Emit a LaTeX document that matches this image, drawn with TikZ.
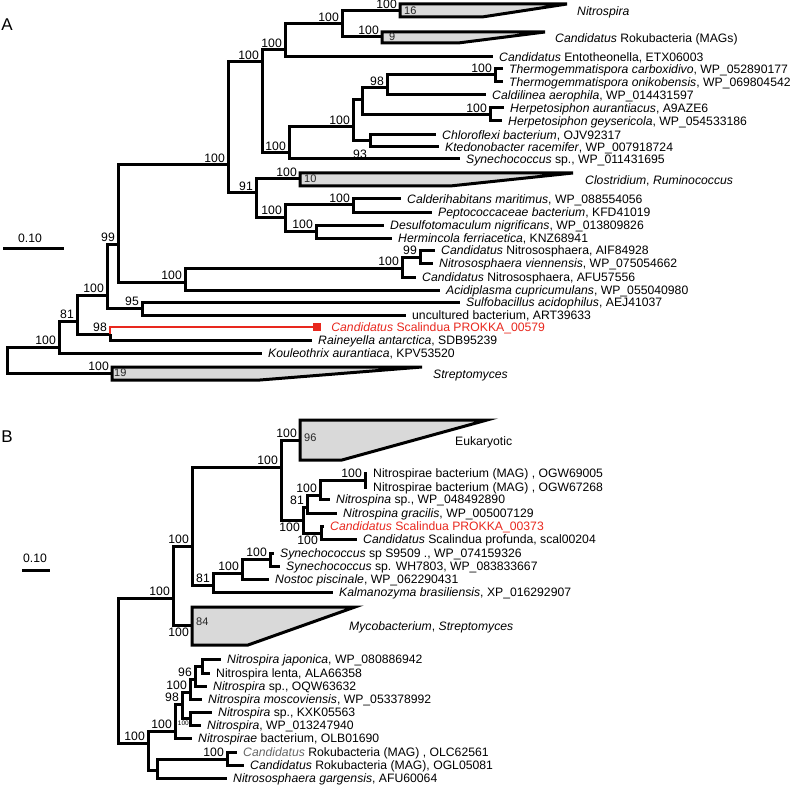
\documentclass[tikz,border=0pt]{standalone}
\usepackage{fontspec}
\setmainfont{Liberation Sans}
\definecolor{scred}{RGB}{232,40,30}
\definecolor{cladegray}{RGB}{217,217,217}
\begin{document}
\begin{tikzpicture}[x=1pt, y=-1pt,
  br/.style={line width=3pt, draw=black},
  redbr/.style={line width=2.2pt, draw=scred},
  clade/.style={line width=3pt, draw=black, fill=cladegray},
  tip/.style={anchor=west, inner sep=0pt, xshift=6pt, text height=8.6pt, text depth=0pt,
              font=\fontsize{12.2}{12}\selectfont},
  bs/.style={anchor=south east, inner xsep=3pt, inner ysep=2.5pt, text height=8.6pt, text depth=0pt,
             font=\fontsize{12.2}{12}\selectfont},
  bsb/.style={bs, anchor=north east},
  cnum/.style={anchor=west, inner sep=0pt, xshift=4pt, text height=7.9pt, text depth=0pt,
               font=\fontsize{11}{11}\selectfont, text=black!85},
  panel/.style={font=\fontsize{17}{17}\selectfont}
]
\useasboundingbox (0,0) rectangle (799,786);

\node[panel] (pA) at (7,25) {A};
\node[panel] (pB) at (7,437) {B};

% scale bars
\coordinate (sa1) at (3,248); \coordinate (sa2) at (64,248);
\draw[br] (sa1) -- (sa2);
\node[font=\fontsize{12.2}{12}\selectfont] (sal) at (30,238) {0.10};
\coordinate (sb1) at (22,570); \coordinate (sb2) at (50,570);
\draw[br] (sb1) -- (sb2);
\node[font=\fontsize{12.2}{12}\selectfont] (sbl) at (35,558) {0.10};

% ---------- A ----------
\coordinate (rA) at (7,360);
\coordinate (a1) at (59,347);
\coordinate (a2) at (77,321);
\coordinate (a3) at (107,295);
\coordinate (a4) at (118,244);
\coordinate (a5) at (228,165);
\coordinate (a6) at (262,62);
\coordinate (a7) at (285,50);
\coordinate (a8) at (342,24);
\coordinate (a9) at (289,153);
\coordinate (a10) at (353,127);
\coordinate (a11) at (362,100);
\coordinate (a12) at (387,88);
\coordinate (a13) at (495,75);
\coordinate (a14) at (490,115);
\coordinate (a15) at (370,141);
\coordinate (a16) at (256,193);
\coordinate (a17) at (285,217);
\coordinate (a18) at (353,205);
\coordinate (a19) at (316,231);
\coordinate (a20) at (185,282);
\coordinate (a21) at (402,268);
\coordinate (a22) at (420,257);
\coordinate (a23) at (142,308);
\coordinate (a24) at (110,334);

\coordinate (cA16) at (400,11);
\coordinate (cA9) at (382,37);
\coordinate (cA10) at (300,179);
\coordinate (cA19) at (112,373);

\draw[clade] (400,4) -- (567,4) -- (482,17) -- (400,17) -- cycle;
\draw[clade] (382,32) -- (545,32) -- (458,43) -- (382,43) -- cycle;
\draw[clade] (300,173) -- (573,173) -- (450,186) -- (300,186) -- cycle;
\draw[clade] (112,367) -- (422,367) -- (260,380) -- (112,380) -- cycle;
\node[cnum] (n16) at (cA16) {16};
\node[cnum] (n9) at ([xshift=3pt]cA9) {9};
\node[cnum] (n10) at (cA10) {10};
\node[cnum] (n19) at ([xshift=-2pt]cA19) {19};

\coordinate (tA1) at (493,57);
\coordinate (tA2) at (503,69);
\coordinate (tA3) at (503,82);
\coordinate (tA4) at (486,95);
\coordinate (tA5) at (504,108);
\coordinate (tA6) at (502,121);
\coordinate (tA7) at (436,135);
\coordinate (tA8) at (439,147);
\coordinate (tA9) at (460,159);
\coordinate (tA10) at (401,199);
\coordinate (tA11) at (432,212);
\coordinate (tA12) at (384,225);
\coordinate (tA13) at (392,238);
\coordinate (tA14) at (435,250);
\coordinate (tA15) at (433,263);
\coordinate (tA16) at (416,277);
\coordinate (tA17) at (440,290);
\coordinate (tA18) at (460,302);
\coordinate (tA19) at (406,315);
\coordinate (tA20) at (313,327);
\coordinate (tA21) at (312,340);
\coordinate (tA22) at (262,353);

\draw[br] (rA) |- (a1);  \draw[br] (rA) |- (cA19);
\draw[br] (a1) |- (a2);  \draw[br] (a1) |- (tA22);
\draw[br] (a2) |- (a3);  \draw[br] (a2) |- (a24);
\draw[br] (a3) |- (a4);  \draw[br] (a3) |- (a23);
\draw[br] (a4) |- (a5);  \draw[br] (a4) |- (a20);
\draw[br] (a5) |- (a6);  \draw[br] (a5) |- (a16);
\draw[br] (a6) |- (a7);  \draw[br] (a6) |- (a9);
\draw[br] (a7) |- (a8);  \draw[br] (a7) |- (tA1);
\draw[br] (a8) |- (cA16); \draw[br] (a8) |- (cA9);
\draw[br] (a9) |- (a10); \draw[br] (a9) |- (tA9);
\draw[br] (a10) |- (a11); \draw[br] (a10) |- (a15);
\draw[br] (a11) |- (a12); \draw[br] (a11) |- (a14);
\draw[br] (a12) |- (a13); \draw[br] (a12) |- (tA4);
\draw[br] (a13) |- (tA2); \draw[br] (a13) |- (tA3);
\draw[br] (a14) |- (tA5); \draw[br] (a14) |- (tA6);
\draw[br] (a15) |- (tA7); \draw[br] (a15) |- (tA8);
\draw[br] (a16) |- (cA10); \draw[br] (a16) |- (a17);
\draw[br] (a17) |- (a18); \draw[br] (a17) |- (a19);
\draw[br] (a18) |- (tA10); \draw[br] (a18) |- (tA11);
\draw[br] (a19) |- (tA12); \draw[br] (a19) |- (tA13);
\draw[br] (a20) |- (a21); \draw[br] (a20) |- (tA17);
\draw[br] (a21) |- (a22); \draw[br] (a21) |- (tA16);
\draw[br] (a22) |- (tA14); \draw[br] (a22) |- (tA15);
\draw[br] (a23) |- (tA18); \draw[br] (a23) |- (tA19);
\draw[br] (a24) |- (tA21);
\node[fill=scred, inner sep=0pt, minimum size=8pt] (sqA) at (317,327) {};
\draw[redbr] (a24) |- (sqA.west);

\node[tip] (lA1) at (tA1) {\textit{Candidatus} Entotheonella, ETX06003};
\node[tip] (lA2) at (tA2) {\textit{Thermogemmatispora carboxidivo}, WP\_052890177};
\node[tip] (lA3) at (tA3) {\textit{Thermogemmatispora onikobensis}, WP\_069804542};
\node[tip] (lA4) at (tA4) {\textit{Caldilinea aerophila}, WP\_014431597};
\node[tip] (lA5) at (tA5) {\textit{Herpetosiphon aurantiacus}, A9AZE6};
\node[tip] (lA6) at (tA6) {\textit{Herpetosiphon geysericola}, WP\_054533186};
\node[tip] (lA7) at (tA7) {\textit{Chloroflexi bacterium}, OJV92317};
\node[tip] (lA8) at (tA8) {\textit{Ktedonobacter racemifer}, WP\_007918724};
\node[tip] (lA9) at (tA9) {\textit{Synechococcus} sp., WP\_011431695};
\node[tip] (lA10) at (tA10) {\textit{Calderihabitans maritimus}, WP\_088554056};
\node[tip] (lA11) at (tA11) {\textit{Peptococcaceae bacterium}, KFD41019};
\node[tip] (lA12) at (tA12) {\textit{Desulfotomaculum nigrificans}, WP\_013809826};
\node[tip] (lA13) at (tA13) {\textit{Hermincola ferriacetica}, KNZ68941};
\node[tip] (lA14) at (tA14) {\textit{Candidatus} Nitrososphaera, AIF84928};
\node[tip] (lA15) at (tA15) {\textit{Nitrososphaera viennensis}, WP\_075054662};
\node[tip] (lA16) at (tA16) {\textit{Candidatus} Nitrososphaera, AFU57556};
\node[tip] (lA17) at (tA17) {\textit{Acidiplasma cupricumulans}, WP\_055040980};
\node[tip] (lA18) at (tA18) {\textit{Sulfobacillus acidophilus}, AEJ41037};
\node[tip] (lA19) at (tA19) {uncultured bacterium, ART39633};
\node[tip, text=scred, xshift=0pt] (lA20) at ([xshift=4pt]sqA.east) {\textit{Candidatus} Scalindua PROKKA\_00579};
\node[tip] (lA21) at (tA21) {\textit{Raineyella antarctica}, SDB95239};
\node[tip] (lA22) at (tA22) {\textit{Kouleothrix aurantiaca}, KPV53520};
\node[tip, xshift=0pt] (lC16) at (571,11) {\textit{Nitrospira}};
\node[tip, xshift=0pt] (lC9) at (549,38) {\textit{Candidatus} Rokubacteria (MAGs)};
\node[tip, xshift=0pt] (lC10) at (579,180) {\textit{Clostridium}, \textit{Ruminococcus}};
\node[tip, xshift=0pt] (lC19) at (427,374) {\textit{Streptomyces}};

\node[bs] (bA1) at (cA16) {100};
\node[bs] (bA2) at (cA9) {100};
\node[bs] (bA3) at (a8) {100};
\node[bs] (bA4) at (a7) {100};
\node[bs] (bA5) at (a6) {100};
\node[bs] (bA6) at (a5) {100};
\node[bs] (bA7) at (a9) {100};
\node[bs] (bA8) at (a10) {100};
\node[bs] (bA9) at (a12) {98};
\node[bs] (bA10) at (a13) {100};
\node[bs] (bA11) at (a14) {100};
\node[bsb] (bA12) at (a15 |- tA8) {93};
\node[bs] (bA13) at (a16) {91};
\node[bs] (bA14) at (cA10) {100};
\node[bs] (bA15) at (a17) {100};
\node[bs] (bA16) at (a18) {100};
\node[bs] (bA17) at (a19) {100};
\node[bs] (bA18) at (a4) {99};
\node[bs] (bA19) at (a20) {100};
\node[bs] (bA20) at (a21) {100};
\node[bs] (bA21) at (a22) {99};
\node[bs] (bA22) at (a3) {100};
\node[bs] (bA23) at (a23) {95};
\node[bs] (bA24) at (a2) {81};
\node[bs] (bA25) at (a24) {98};
\node[bs] (bA26) at (a1) {100};
\node[bs] (bA27) at (cA19) {100};

% ---------- B ----------
\coordinate (rB) at (118,670);
\coordinate (b1) at (173,598);
\coordinate (b2) at (192,546);
\coordinate (b3) at (281,467);
\coordinate (b4) at (303,520);
\coordinate (b5) at (307,507);
\coordinate (b6) at (320,495);
\coordinate (b7) at (365,480);
\coordinate (b8) at (321,533);
\coordinate (b9) at (213,585);
\coordinate (b10) at (242,573);
\coordinate (b11) at (270,559);
\coordinate (b12) at (148,743);
\coordinate (b13) at (175,731);
\coordinate (b14) at (157,770);
\coordinate (b15) at (227,759);
\coordinate (b16) at (182,704);
\coordinate (b17) at (190,692);
\coordinate (b18) at (195,679);
\coordinate (b19) at (202,666);
\coordinate (b20) at (190,718);

\coordinate (cEuk) at (300,440);
\coordinate (cMyc) at (192,625);
\draw[clade] (300,420) -- (487,420) -- (342,460) -- (300,460) -- cycle;
\draw[clade] (192,607) -- (355,607) -- (248,645) -- (192,645) -- cycle;
\node[cnum] (n96) at ([yshift=2pt]cEuk) {96};
\node[cnum] (n84) at ([yshift=3pt]cMyc) {84};

\coordinate (tB1) at (367,473);
\coordinate (tB2) at (367,487);
\coordinate (tB3) at (330,499);
\coordinate (tB4) at (337,513);
\coordinate (tB5) at (324,526);
\coordinate (tB6) at (357,539);
\coordinate (tB7) at (274,553);
\coordinate (tB8) at (280,566);
\coordinate (tB9) at (269,579);
\coordinate (tB10) at (333,592);
\coordinate (tB11) at (221,659);
\coordinate (tB12) at (210,673);
\coordinate (tB13) at (207,686);
\coordinate (tB14) at (202,699);
\coordinate (tB15) at (212,712);
\coordinate (tB16) at (201,725);
\coordinate (tB17) at (192,738);
\coordinate (tB18) at (237,752);
\coordinate (tB19) at (244,765);
\coordinate (tB20) at (227,778);

\draw[br] (rB) |- (b1);  \draw[br] (rB) |- (b12);
\draw[br] (b1) |- (b2);  \draw[br] (b1) |- (cMyc);
\draw[br] (b2) |- (b3);  \draw[br] (b2) |- (b9);
\draw[br] (b3) |- (cEuk); \draw[br] (b3) |- (b4);
\draw[br] (b4) |- (b5);  \draw[br] (b4) |- (b8);
\draw[br] (b5) |- (b6);  \draw[br] (b5) |- (tB4);
\draw[br] (b6) |- (b7);  \draw[br] (b6) |- (tB3);
\draw[br] (b7) |- (tB1); \draw[br] (b7) |- (tB2);
\draw[br] (b8) |- (tB5); \draw[br] (b8) |- (tB6);
\draw[br] (b9) |- (b10); \draw[br] (b9) |- (tB10);
\draw[br] (b10) |- (b11); \draw[br] (b10) |- (tB9);
\draw[br] (b11) |- (tB7); \draw[br] (b11) |- (tB8);
\draw[br] (b12) |- (b13); \draw[br] (b12) |- (b14);
\draw[br] (b13) |- (b16); \draw[br] (b13) |- (tB17);
\draw[br] (b14) |- (b15); \draw[br] (b14) |- (tB20);
\draw[br] (b15) |- (tB18); \draw[br] (b15) |- (tB19);
\draw[br] (b16) |- (b17); \draw[br] (b16) |- (b20);
\draw[br] (b17) |- (b18); \draw[br] (b17) |- (tB14);
\draw[br] (b18) |- (b19); \draw[br] (b18) |- (tB13);
\draw[br] (b19) |- (tB11); \draw[br] (b19) |- (tB12);
\draw[br] (b20) |- (tB15); \draw[br] (b20) |- (tB16);

\node[tip] (lB1) at (tB1) {Nitrospirae bacterium (MAG) , OGW69005};
\node[tip] (lB2) at (tB2) {Nitrospirae bacterium (MAG) , OGW67268};
\node[tip] (lB3) at (tB3) {\textit{Nitrospina} sp., WP\_048492890};
\node[tip] (lB4) at (tB4) {\textit{Nitrospina gracilis}, WP\_005007129};
\node[tip, text=scred] (lB5) at (tB5) {\textit{Candidatus} Scalindua PROKKA\_00373};
\node[tip] (lB6) at (tB6) {\textit{Candidatus} Scalindua profunda, scal00204};
\node[tip] (lB7) at (tB7) {\textit{Synechococcus} sp S9509 ., WP\_074159326};
\node[tip] (lB8) at (tB8) {\textit{Synechococcus} sp. WH7803, WP\_083833667};
\node[tip] (lB9) at (tB9) {\textit{Nostoc piscinale}, WP\_062290431};
\node[tip] (lB10) at (tB10) {\textit{Kalmanozyma brasiliensis}, XP\_016292907};
\node[tip] (lB11) at (tB11) {\textit{Nitrospira japonica}, WP\_080886942};
\node[tip] (lB12) at (tB12) {Nitrospira lenta, ALA66358};
\node[tip] (lB13) at (tB13) {\textit{Nitrospira} sp., OQW63632};
\node[tip] (lB14) at (tB14) {\textit{Nitrospira moscoviensis}, WP\_053378992};
\node[tip] (lB15) at (tB15) {\textit{Nitrospira} sp., KXK05563};
\node[tip] (lB16) at (tB16) {\textit{Nitrospira}, WP\_013247940};
\node[tip] (lB17) at (tB17) {\textit{Nitrospirae} bacterium, OLB01690};
\node[tip] (lB18) at (tB18) {\textcolor{black!60}{\textit{Candidatus}} Rokubacteria (MAG) , OLC62561};
\node[tip] (lB19) at (tB19) {\textit{Candidatus} Rokubacteria (MAG), OGL05081};
\node[tip] (lB20) at (tB20) {\textit{Nitrososphaera gargensis}, AFU60064};
\node[tip, xshift=0pt] (lEuk) at (449,441) {Eukaryotic};
\node[tip, xshift=0pt] (lMyc) at (343,626) {\textit{Mycobacterium}, \textit{Streptomyces}};

\node[bs] (bB1) at (cEuk) {100};
\node[bs] (bB2) at (b3) {100};
\node[bs] (bB3) at (b2) {100};
\node[bsb] (bB4) at (b4) {100};
\node[bs] (bB5) at (b5) {81};
\node[bs] (bB6) at (b6) {100};
\node[bs] (bB7) at (b7) {100};
\node[bsb] (bB8) at (b8) {100};
\node[bs] (bB9) at (b1) {100};
\node[bsb] (bB10) at (cMyc) {100};
\node[bs] (bB11) at (b9) {81};
\node[bs] (bB12) at (b10) {100};
\node[bs] (bB13) at (b11) {100};
\node[bs] (bB14) at (b12) {100};
\node[bs] (bB15) at (b13) {100};
\node[bs] (bB16) at (b15) {100};
\node[bs] (bB17) at (b16) {98};
\node[bs] (bB18) at (b17) {100};
\node[bs] (bB19) at (b18) {96};
\node[bsb, font=\fontsize{6.5}{6.5}\selectfont, text height=4.7pt, inner xsep=1pt] (bB20) at (b20) {100};
\end{tikzpicture}
\end{document}
